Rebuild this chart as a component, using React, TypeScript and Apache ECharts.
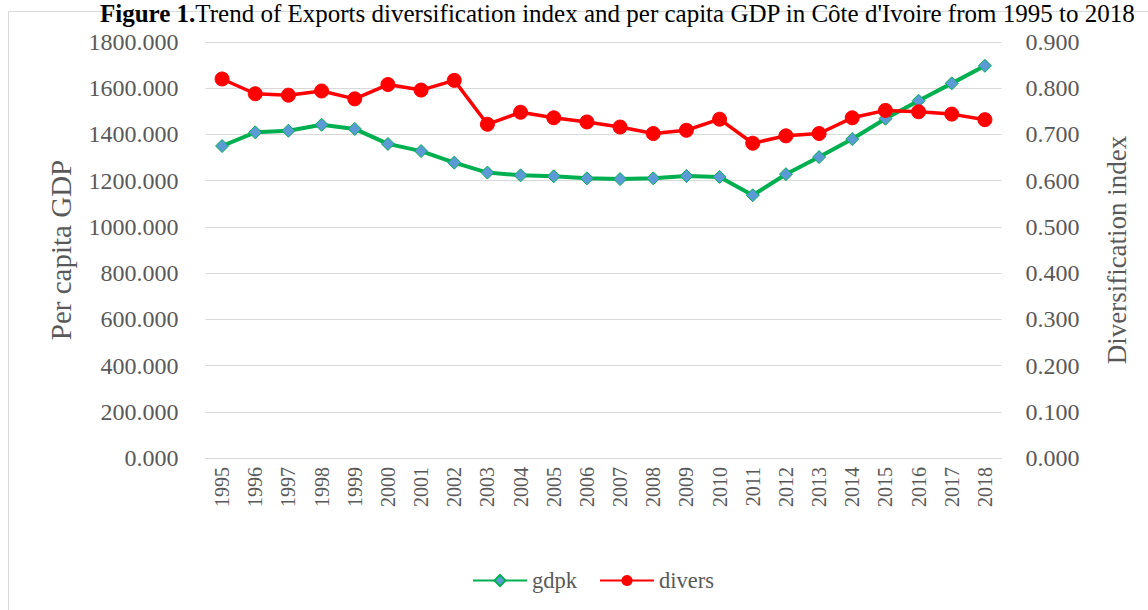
import React, { useEffect, useRef } from "react";
import * as echarts from "echarts";

const years = ["1995","1996","1997","1998","1999","2000","2001","2002","2003","2004","2005","2006","2007","2008","2009","2010","2011","2012","2013","2014","2015","2016","2017","2018"];
const gdpk = [1350,1409,1416,1442,1424,1359,1328,1278,1235,1223,1219,1210,1207,1210,1220,1216,1137,1228,1302,1380,1468,1546,1621,1697];
const divers = [0.820,0.788,0.785,0.794,0.777,0.808,0.796,0.817,0.722,0.748,0.736,0.727,0.716,0.702,0.709,0.733,0.681,0.697,0.702,0.736,0.752,0.749,0.744,0.732];

const FONT = "'Liberation Serif', 'Times New Roman', serif";
const GREY = "#595959";

export default function App() {
  const ref = useRef<HTMLDivElement>(null);
  useEffect(() => {
    document.body.style.margin = "0";
    const chart = echarts.init(ref.current!, null, { renderer: "svg" });
    chart.setOption({
      animation: false,
      backgroundColor: "#fff",
      textStyle: { fontFamily: FONT },
      graphic: [
        {
          type: "rect",
          shape: { x: 8.5, y: 11.5, width: 1160, height: 620 },
          style: { fill: "none", stroke: "#d9d9d9", lineWidth: 1 },
          silent: true,
        },
        {
          type: "text",
          x: 100,
          y: 0,
          style: {
            text: "{b|Figure 1.}{r|Trend of Exports diversification index and per capita GDP in Côte d'Ivoire from 1995 to 2018}",
            verticalAlign: "top",
            rich: {
              b: { fontFamily: FONT, fontSize: 25, fontWeight: "bold", fill: "#000", lineHeight: 26 },
              r: { fontFamily: FONT, fontSize: 25, fill: "#000", lineHeight: 26 },
            },
          },
        },
      ],
      grid: { left: 205.5, right: 146.5, top: 42, bottom: 152, containLabel: false },
      legend: {
        top: 564,
        left: 467,
        itemWidth: 54,
        itemHeight: 14,
        itemGap: 22,
        textStyle: { fontFamily: FONT, fontSize: 22.5, color: GREY },
        data: ["gdpk", "divers"],
      },
      xAxis: {
        type: "category",
        data: years,
        boundaryGap: true,
        axisLine: { lineStyle: { color: "#d9d9d9" } },
        axisTick: { show: false },
        axisLabel: { rotate: 90, fontFamily: FONT, fontSize: 20, color: GREY, margin: 9 },
      },
      yAxis: [
        {
          type: "value",
          min: 0,
          max: 1800,
          interval: 200,
          name: "Per capita GDP",
          nameLocation: "middle",
          nameGap: 130,
          nameRotate: 90,
          nameTextStyle: { fontFamily: FONT, fontSize: 29, color: GREY },
          axisLine: { show: false },
          axisTick: { show: false },
          splitLine: { lineStyle: { color: "#d9d9d9", width: 1 } },
          axisLabel: { fontFamily: FONT, fontSize: 24, color: GREY, margin: 27, formatter: (v: number) => v.toFixed(3) },
        },
        {
          type: "value",
          min: 0,
          max: 0.9,
          interval: 0.1,
          name: "Diversification index",
          nameLocation: "middle",
          nameGap: 102,
          nameRotate: 90,
          nameTextStyle: { fontFamily: FONT, fontSize: 27, color: GREY },
          axisLine: { show: false },
          axisTick: { show: false },
          splitLine: { show: false },
          axisLabel: { fontFamily: FONT, fontSize: 24, color: GREY, margin: 24, formatter: (v: number) => v.toFixed(3) },
        },
      ],
      series: [
        {
          name: "gdpk",
          type: "line",
          data: gdpk,
          yAxisIndex: 0,
          symbol: "diamond",
          symbolSize: 13,
          lineStyle: { color: "#00B050", width: 4 },
          itemStyle: { color: "#5B9BD5", borderColor: "#00B050", borderWidth: 1 },
        },
        {
          name: "divers",
          type: "line",
          data: divers,
          yAxisIndex: 1,
          symbol: "circle",
          symbolSize: 14,
          lineStyle: { color: "#FF0000", width: 3.5 },
          itemStyle: { color: "#FF0000", borderColor: "#FF0000" },
        },
      ],
    });
    return () => chart.dispose();
  }, []);
  return <div ref={ref} style={{ width: 1148, height: 610 }} />;
}
